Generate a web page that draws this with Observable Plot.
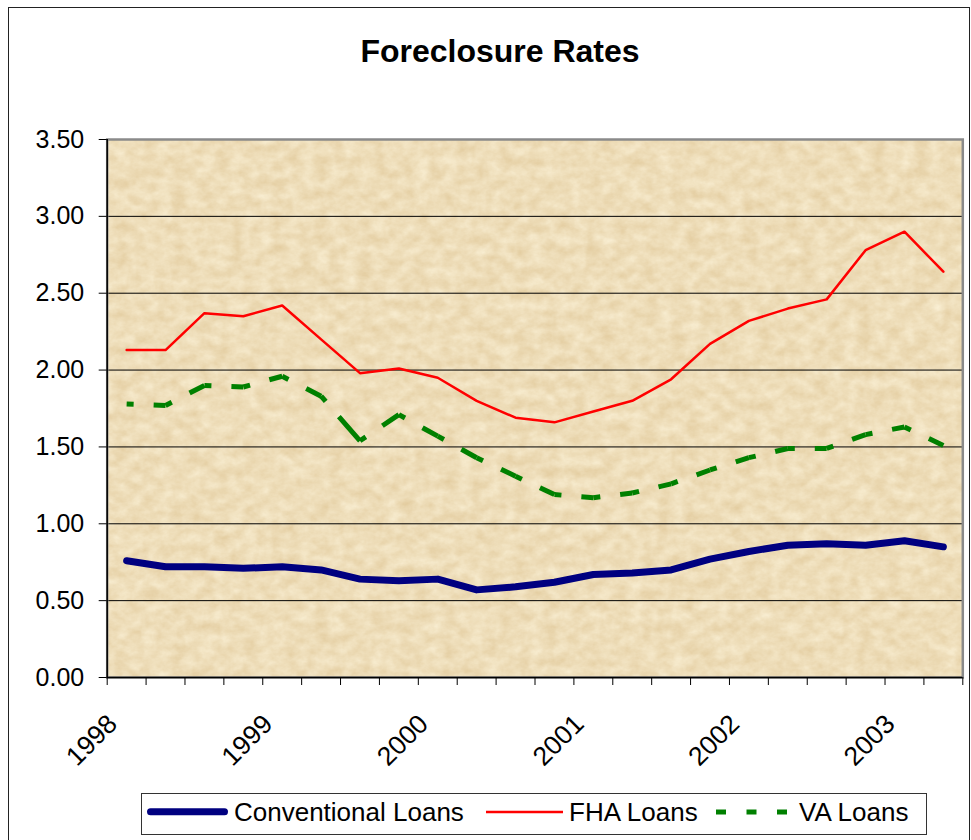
<!DOCTYPE html>
<html>
<head>
<meta charset="utf-8">
<script src="https://cdn.jsdelivr.net/npm/d3@7"></script>
<script src="https://cdn.jsdelivr.net/npm/@observablehq/plot@0.6"></script>
<style>
  body { margin: 0; background: #fff; overflow: hidden; font-family: "Liberation Sans", Arial, sans-serif; }
  #wrap { position: relative; width: 971px; height: 840px; overflow: hidden; background: #fff; }
  #border { position: absolute; left: 8px; top: 7px; width: 962px; height: 900px; border: 1.5px solid #222; box-sizing: border-box; }
  #title { position: absolute; left: 0; width: 1000px; top: 34.5px; text-align: center; font-weight: bold; font-size: 32px; line-height: 32px; color: #000; }
  #chart { position: absolute; left: 0; top: 0; }
  #legend { position: absolute; left: 141px; top: 793px; width: 786px; height: 42px; border: 1px solid #333; box-sizing: border-box; background: #fff; }
  #legend svg { position: absolute; left: -1px; top: -1px; }
  #legend span { position: absolute; top: 5px; font-size: 26px; line-height: 26px; color: #000; white-space: nowrap; }
</style>
</head>
<body>
<div id="wrap">
  <div id="border"></div>
  <div id="title">Foreclosure Rates</div>
  <div id="chart"></div>
  <div id="legend"></div>
</div>
<script>
// ---- data ----
const quarters = [
  "1998 Q1","1998 Q2","1998 Q3","1998 Q4",
  "1999 Q1","1999 Q2","1999 Q3","1999 Q4",
  "2000 Q1","2000 Q2","2000 Q3","2000 Q4",
  "2001 Q1","2001 Q2","2001 Q3","2001 Q4",
  "2002 Q1","2002 Q2","2002 Q3","2002 Q4",
  "2003 Q1","2003 Q2"
];
const conventional = [0.76,0.72,0.72,0.71,0.72,0.70,0.64,0.63,0.64,0.57,0.59,0.62,0.67,0.68,0.70,0.77,0.82,0.86,0.87,0.86,0.89,0.85];
const fha          = [2.13,2.13,2.37,2.35,2.42,2.20,1.98,2.01,1.95,1.80,1.69,1.66,1.73,1.80,1.94,2.17,2.32,2.40,2.46,2.78,2.90,2.64];
const va           = [1.78,1.77,1.90,1.89,1.96,1.83,1.54,1.71,1.57,1.43,1.31,1.19,1.17,1.20,1.26,1.35,1.43,1.49,1.49,1.58,1.63,1.51];
const yearLabels = ["1998","1999","2000","2001","2002","2003"];
const yTicks = [0, 0.5, 1, 1.5, 2, 2.5, 3, 3.5];
const seriesNames = ["Conventional Loans", "FHA Loans", "VA Loans"];

// ---- derived tables ----
const rows = quarters.map((q, i) => ({q, x: i + 0.5, conv: conventional[i], fha: fha[i], va: va[i]}));
const vaSegs = rows.slice(1).map((r, i) => ({x1: rows[i].x, y1: rows[i].va, x2: r.x, y2: r.va}));
const yearRows = yearLabels.map(y => ({label: y, x: quarters.indexOf(y + " Q1") + 0.5}));
const boundaries = d3.range(0, quarters.length + 1);

const chart = Plot.plot({
  width: 971,
  height: 780,
  marginTop: 139,
  marginLeft: 106.7,
  marginRight: 8.7,
  marginBottom: 103,
  style: {fontFamily: "'Liberation Sans', Arial, sans-serif", fontSize: "25px", color: "#000", background: "transparent", overflow: "visible"},
  x: {type: "linear", domain: [0, quarters.length], axis: null},
  y: {domain: [0, 3.5], axis: null},
  marks: [
    Plot.frame({fill: "#EEDDB7", stroke: "none"}),
    Plot.gridY(yTicks.filter(v => v > 0 && v < 3.5), {stroke: "#000", strokeOpacity: 1, strokeWidth: 1}),
    Plot.frame({stroke: "#8a8a8a", strokeWidth: 2.5, fill: "none"}),
    Plot.axisY(yTicks, {tickSize: 8, tickPadding: 15, tickFormat: d3.format(".2f"), label: null, fontSize: 25, stroke: "#000"}),
    Plot.axisX(boundaries, {tickSize: 8, tickFormat: () => "", label: null, stroke: "#000"}),
    Plot.ruleX([0], {stroke: "#000", strokeWidth: 1.5}),
    Plot.ruleY([0], {stroke: "#000", strokeWidth: 1.5}),
    Plot.line(rows, {x: "x", y: "fha", stroke: "#ff0000", strokeWidth: 2.5, strokeLinejoin: "round"}),
    Plot.link(vaSegs, {x1: "x1", y1: "y1", x2: "x2", y2: "y2", stroke: "#008000", strokeWidth: 5, strokeDasharray: "7,20,60", strokeLinecap: "butt"}),
    Plot.line(rows, {x: "x", y: "conv", stroke: "#000080", strokeWidth: 7, strokeLinecap: "round", strokeLinejoin: "round"}),
    Plot.text(yearRows, {x: "x", frameAnchor: "bottom", text: "label", rotate: -45, textAnchor: "end", lineAnchor: "bottom", dx: -8, dy: 48, fontSize: 26.5, fill: "#000"})
  ]
});

// parchment texture on the plot area
const ns = "http://www.w3.org/2000/svg";
const defs = document.createElementNS(ns, "defs");
defs.innerHTML = `
  <filter id="paper" x="0" y="0" width="1" height="1" filterUnits="objectBoundingBox" color-interpolation-filters="sRGB">
    <feTurbulence type="fractalNoise" baseFrequency="0.07 0.09" numOctaves="4" seed="11" result="n"/>
    <feColorMatrix in="n" type="matrix" values="0.09 0 0 0 0.888  0.14 0 0 0 0.797  0.21 0 0 0 0.62  0 0 0 0 1"/>
  </filter>`;
chart.insertBefore(defs, chart.firstChild);
const frameRect = chart.querySelector('[aria-label="frame"] rect') || chart.querySelector('[aria-label="frame"]');
if (frameRect) frameRect.setAttribute("filter", "url(#paper)");

document.getElementById("chart").appendChild(chart);

// ---- legend ----
const legend = d3.select("#legend");
const lsvg = legend.append("svg").attr("width", 786).attr("height", 42);
lsvg.append("line").attr("x1", 9.5).attr("x2", 83.5).attr("y1", 18.7).attr("y2", 18.7)
  .attr("stroke", "#000080").attr("stroke-width", 7).attr("stroke-linecap", "round");
lsvg.append("line").attr("x1", 345).attr("x2", 422).attr("y1", 19).attr("y2", 19)
  .attr("stroke", "#ff0000").attr("stroke-width", 2.5);
lsvg.append("line").attr("x1", 575).attr("x2", 646).attr("y1", 19).attr("y2", 19)
  .attr("stroke", "#008000").attr("stroke-width", 5).attr("stroke-dasharray", "10,20.5");
const textLefts = [92, 427, 657];
seriesNames.forEach((name, i) => {
  legend.append("span").style("left", textLefts[i] + "px").text(name);
});
</script>
</body>
</html>
